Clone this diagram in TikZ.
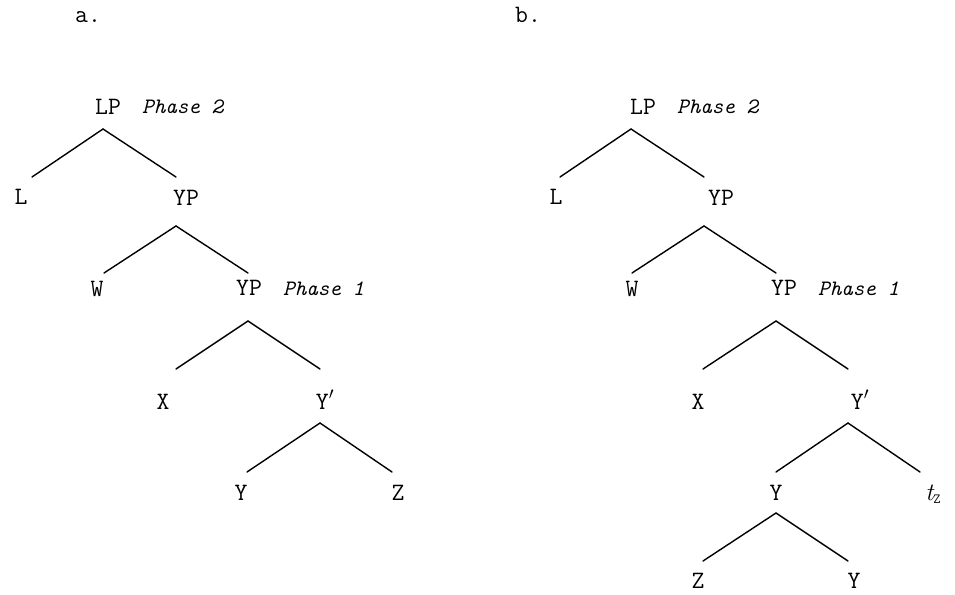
\documentclass[tikz,border=0pt]{standalone}
\usepackage{fontspec}
\usetikzlibrary{calc}

\tikzset{
  cat/.style={font=\ttfamily\fontsize{25}{25}\selectfont, inner sep=0pt, anchor=base},
  phase/.style={font=\ttfamily\itshape\fontsize{22}{22}\selectfont, inner sep=0pt, anchor=base west},
  branch/.style={line width=1.4pt, line cap=round},
}

\begin{document}
\begin{tikzpicture}[x=1pt, y=-1pt]
  \useasboundingbox (0,0) rectangle (955,594);

  % Tree a
  \node[cat, anchor=base west] (la) at (75,23) {a.};
  \node[cat] (aLP) at (108,114) {LP};
  \node[phase] (aph2) at (142,113) {Phase 2};
  \node[cat] (aL) at (21,204) {L};
  \node[cat] (aYPa) at (186,205) {YP};
  \node[cat] (aW) at (97,296) {W};
  \node[cat] (aYPb) at (249,295) {YP};
  \node[phase] (aph1) at (283,295) {Phase 1};
  \node[cat] (aX) at (163,409) {X};
  \node[cat] (aYbar) at (325,409) {Y$'$};
  \node[cat] (aY) at (241,500) {Y};
  \node[cat] (aZ) at (398,500) {Z};

  \draw[branch] ([shift={(-5,15)}]aLP.base) -- ([shift={(11,-27)}]aL.base);
  \draw[branch] ([shift={(-5,15)}]aLP.base) -- ([shift={(-10,-28)}]aYPa.base);
  \draw[branch] ([shift={(-10,21)}]aYPa.base) -- ([shift={(7,-23)}]aW.base);
  \draw[branch] ([shift={(-10,21)}]aYPa.base) -- ([shift={(-1,-22)}]aYPb.base);
  \draw[branch] ([shift={(-1,26)}]aYPb.base) -- ([shift={(13,-40)}]aX.base);
  \draw[branch] ([shift={(-1,26)}]aYPb.base) -- ([shift={(-5,-40)}]aYbar.base);
  \draw[branch] ([shift={(-5,14)}]aYbar.base) -- ([shift={(6,-28)}]aY.base);
  \draw[branch] ([shift={(-5,14)}]aYbar.base) -- ([shift={(-6,-28)}]aZ.base);

  % Tree b
  \node[cat, anchor=base west] (lb) at (515,23) {b.};
  \node[cat] (bLP) at (643,114) {LP};
  \node[phase] (bph2) at (677,113) {Phase 2};
  \node[cat] (bL) at (556,204) {L};
  \node[cat] (bYPa) at (721,205) {YP};
  \node[cat] (bW) at (632,296) {W};
  \node[cat] (bYPb) at (784,295) {YP};
  \node[phase] (bph1) at (818,295) {Phase 1};
  \node[cat] (bX) at (698,409) {X};
  \node[cat] (bYbar) at (860,409) {Y$'$};
  \node[cat] (bY) at (776,500) {Y};
  \node[cat] (btr) at (933,500) {{\rmfamily\itshape t}\raisebox{-0.35ex}{\fontsize{14}{14}\selectfont Z}};
  \node[cat] (bZ) at (698,588) {Z};
  \node[cat] (bYc) at (854,588) {Y};

  \draw[branch] ([shift={(-12,15)}]bLP.base) -- ([shift={(4,-27)}]bL.base);
  \draw[branch] ([shift={(-12,15)}]bLP.base) -- ([shift={(-17,-28)}]bYPa.base);
  \draw[branch] ([shift={(-17,21)}]bYPa.base) -- ([shift={(0,-23)}]bW.base);
  \draw[branch] ([shift={(-17,21)}]bYPa.base) -- ([shift={(-8,-22)}]bYPb.base);
  \draw[branch] ([shift={(-8,26)}]bYPb.base) -- ([shift={(5,-40)}]bX.base);
  \draw[branch] ([shift={(-8,26)}]bYPb.base) -- ([shift={(-12,-40)}]bYbar.base);
  \draw[branch] ([shift={(-12,14)}]bYbar.base) -- ([shift={(0,-28)}]bY.base);
  \draw[branch] ([shift={(-12,14)}]bYbar.base) -- ([shift={(-13,-28)}]btr.base);
  \draw[branch] ([shift={(0,13)}]bY.base) -- ([shift={(5,-27)}]bZ.base);
  \draw[branch] ([shift={(0,13)}]bY.base) -- ([shift={(-6,-27)}]bYc.base);
\end{tikzpicture}
\end{document}
